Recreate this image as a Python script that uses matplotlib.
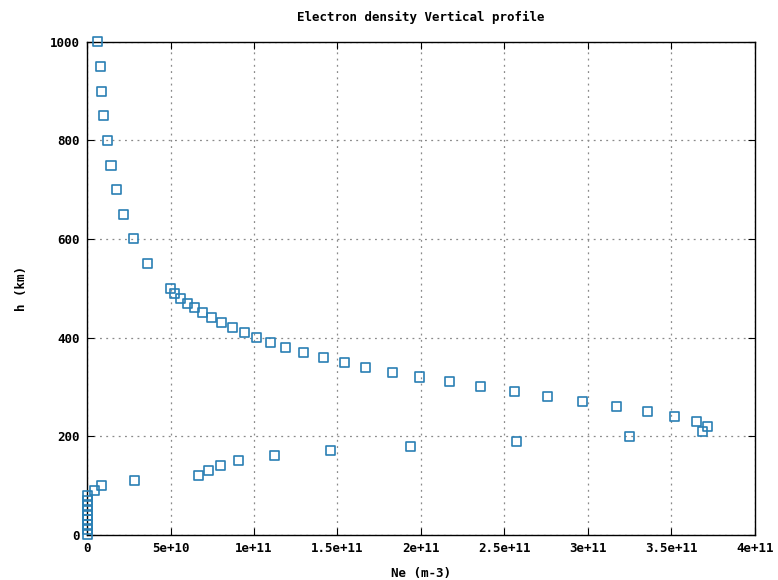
import numpy as np
import matplotlib.pyplot as plt

# electron density (m-3) vs altitude (km)
height_km = [0, 10, 20, 30, 40, 50, 60, 70, 80, 90, 100, 110, 120, 130, 140, 150,
             160, 170, 180, 190, 200, 210, 220, 230, 240, 250, 260, 270, 280, 290,
             300, 310, 320, 330, 340, 350, 360, 370, 380, 390, 400, 410, 420, 430,
             440, 450, 460, 470, 480, 490, 500, 550, 600, 650, 700, 750, 800, 850,
             900, 950, 1000]
ne = [0.0, 0.0, 0.0, 0.0, 0.0, 0.0, 0.0, 0.0, 0.0, 0.42e10, 0.84e10, 2.85e10,
      6.7e10, 7.3e10, 8.0e10, 9.1e10, 1.12e11, 1.46e11, 1.94e11, 2.57e11, 3.25e11,
      3.69e11, 3.72e11, 3.65e11, 3.52e11, 3.36e11, 3.17e11, 2.97e11, 2.76e11,
      2.56e11, 2.36e11, 2.17e11, 1.99e11, 1.83e11, 1.67e11, 1.54e11, 1.415e11,
      1.295e11, 1.19e11, 1.10e11, 1.015e11, 0.94e11, 0.87e11, 0.805e11, 0.745e11,
      0.69e11, 0.645e11, 0.60e11, 0.56e11, 0.525e11, 0.50e11, 3.64e10, 2.75e10,
      2.15e10, 1.73e10, 1.43e10, 1.25e10, 1.0e10, 0.84e10, 0.78e10, 0.6e10]

xticks = [0, 5e10, 1e11, 1.5e11, 2e11, 2.5e11, 3e11, 3.5e11, 4e11]
xtick_labels = ["0", "5e+10", "1e+11", "1.5e+11", "2e+11", "2.5e+11", "3e+11", "3.5e+11", "4e+11"]
yticks = [0, 200, 400, 600, 800, 1000]

plt.rcParams['font.family'] = ['DejaVu Sans Mono']
plt.rcParams['font.weight'] = 'bold'

fig = plt.figure(figsize=(7.78, 5.8), dpi=100)
ax = fig.add_axes([0.112, 0.078, 0.858, 0.85])

ax.scatter(ne, height_km, marker='s', s=42, facecolors='none',
           edgecolors='#2a7fb4', linewidths=1.2, zorder=3, clip_on=False)

ax.set_xlim(0, 4e11)
ax.set_ylim(0, 1000)
ax.set_xticks(xticks)
ax.set_xticklabels(xtick_labels)
ax.set_yticks(yticks)
ax.tick_params(direction='in', top=True, right=True, length=5, labelsize=9, width=0.8, pad=5)
for lab in ax.get_xticklabels() + ax.get_yticklabels():
    lab.set_fontweight('bold')

ax.grid(True, linestyle=(0, (1.5, 3.5)), color='#8a8a8a', linewidth=0.9)
for sp in ax.spines.values():
    sp.set_linewidth(1.0)

ax.set_title("Electron density Vertical profile", fontsize=9, fontweight='bold', pad=15)
ax.set_xlabel("Ne (m-3)", fontsize=9, fontweight='bold', labelpad=9)
ax.set_ylabel("h (km)", fontsize=9, fontweight='bold', labelpad=16)

fig.savefig("out.png", dpi=100)
